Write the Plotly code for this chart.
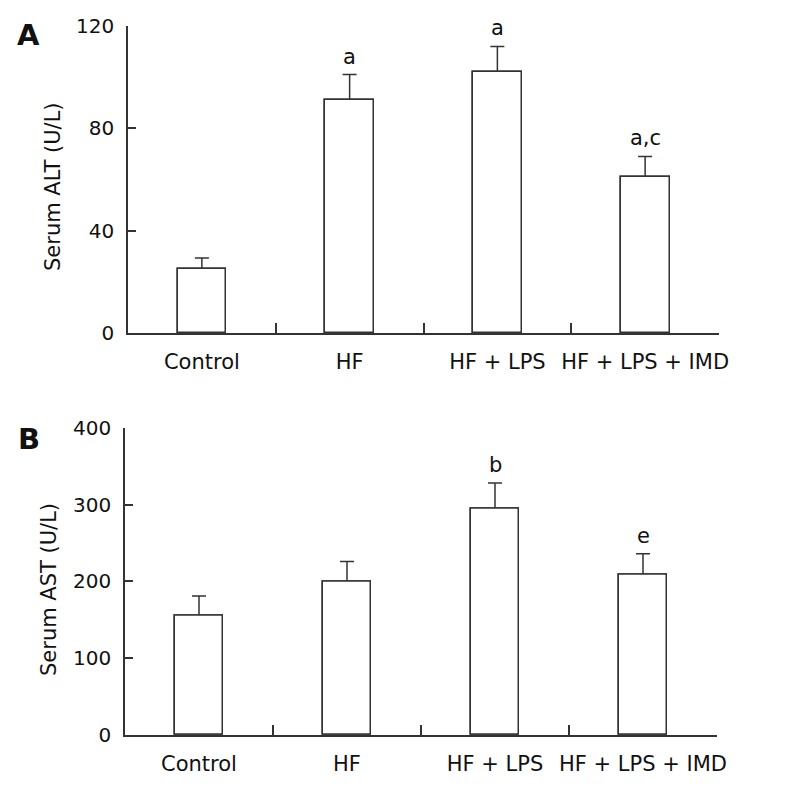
import plotly.graph_objects as go

# ---- data ----
categories = ["Control", "HF", "HF + LPS", "HF + LPS + IMD"]
alt_mean = [25, 91, 102, 61]
alt_err = [4.3, 10, 10, 8]
alt_sig = ["", "a", "a", "a,c"]
ast_mean = [155, 200, 294, 209]
ast_err = [26, 26, 34, 27]
ast_sig = ["", "", "b", "e"]
alt_ticks = [0, 40, 80, 120]
ast_ticks = [0, 100, 200, 300, 400]

W, H = 787, 798
FONT = "DejaVu Sans"
LINE = "#333333"
TXT = "#111111"


def px(x):
    return x / W


def py(y):
    return 1 - y / H


fig = go.Figure()

for mean, err, xa, ya in [(alt_mean, alt_err, "x", "y"), (ast_mean, ast_err, "x2", "y2")]:
    # bars carrying the error bars (lower half hidden by the bars drawn on top)
    fig.add_trace(go.Bar(
        x=categories, y=mean, xaxis=xa, yaxis=ya, width=0.33,
        marker=dict(color="white", line=dict(color=LINE, width=1.5)),
        error_y=dict(type="data", array=err, color=LINE, thickness=1.5, width=7),
        showlegend=False, hoverinfo="skip",
    ))
    fig.add_trace(go.Bar(
        x=categories, y=mean, xaxis=xa, yaxis=ya, width=0.33,
        marker=dict(color="white", line=dict(color=LINE, width=1.5)),
        showlegend=False, hoverinfo="skip",
    ))

common_x = dict(type="category", range=[-0.5, 3.5], tickson="boundaries", ticks="inside",
                ticklen=10, tickwidth=1.5, tickcolor=LINE, showline=True, linecolor=LINE,
                linewidth=1.5, showgrid=False, zeroline=False, ticklabelstandoff=9,
                tickangle=0, automargin=False, fixedrange=True,
                tickfont=dict(family=FONT, size=21, color=TXT))
common_y = dict(ticks="inside", ticklen=8, tickwidth=1.5, tickcolor=LINE, showline=True,
                linecolor=LINE, linewidth=1.5, showgrid=False, zeroline=False,
                ticklabelstandoff=8, automargin=False, fixedrange=True,
                tickfont=dict(family=FONT, size=20, color=TXT))

fig.update_layout(
    width=W, height=H, margin=dict(l=0, r=0, t=0, b=0, autoexpand=False),
    paper_bgcolor="white", plot_bgcolor="white", bargap=0, barmode="overlay",
    xaxis=dict(domain=[px(128), px(719)], anchor="y", **common_x),
    yaxis=dict(domain=[py(333), py(26)], anchor="x", range=[0, 120], tickvals=alt_ticks, **common_y),
    xaxis2=dict(domain=[px(125), px(717)], anchor="y2", **common_x),
    yaxis2=dict(domain=[py(735), py(427.7)], anchor="x2", range=[0, 400], tickvals=ast_ticks, **common_y),
)

ann = []
for cats, mean, err, sig, xr, yr in [(categories, alt_mean, alt_err, alt_sig, "x", "y"),
                                     (categories, ast_mean, ast_err, ast_sig, "x2", "y2")]:
    for c, m, e, s in zip(cats, mean, err, sig):
        if s:
            ann.append(dict(x=c, y=m + e, xref=xr, yref=yr, text=s, showarrow=False,
                            xanchor="center", yanchor="middle", yshift=18,
                            font=dict(family=FONT, size=21, color=TXT)))

ann += [
    dict(x=px(53), y=py(186), xref="paper", yref="paper", text="Serum ALT (U/L)", textangle=-90,
         xanchor="center", yanchor="middle", showarrow=False,
         font=dict(family=FONT, size=21, color=TXT)),
    dict(x=px(49), y=py(590), xref="paper", yref="paper", text="Serum AST (U/L)", textangle=-90,
         xanchor="center", yanchor="middle", showarrow=False,
         font=dict(family=FONT, size=21, color=TXT)),
    dict(x=px(28), y=py(35), xref="paper", yref="paper", text="<b>A</b>", showarrow=False,
         xanchor="center", yanchor="middle", font=dict(family=FONT, size=29, color=TXT)),
    dict(x=px(29), y=py(439), xref="paper", yref="paper", text="<b>B</b>", showarrow=False,
         xanchor="center", yanchor="middle", font=dict(family=FONT, size=29, color=TXT)),
]
fig.update_layout(annotations=ann)

fig.write_html("out.html", config={"displayModeBar": False},
               post_script="document.body.style.margin='0';")
